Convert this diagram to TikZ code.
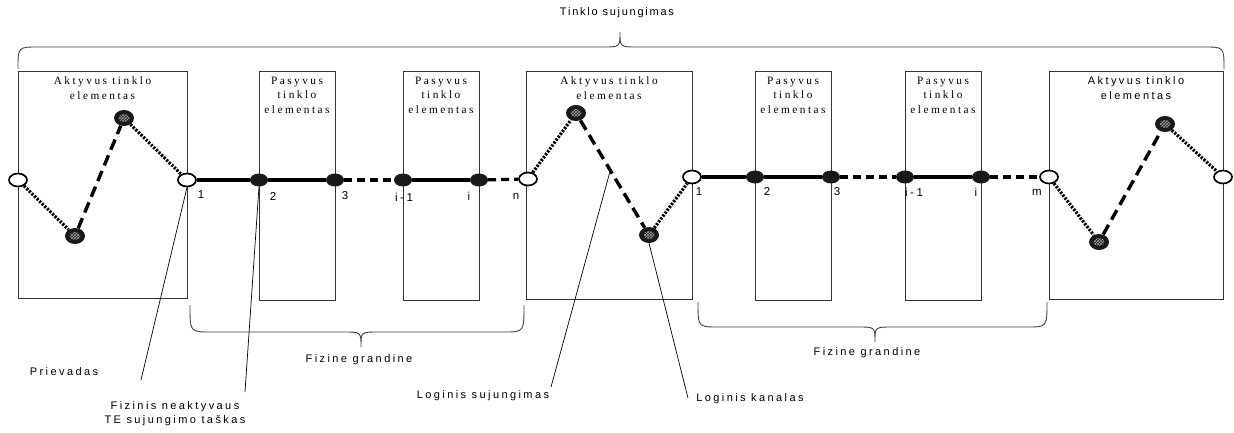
\documentclass[tikz,border=0pt]{standalone}
\usepackage{fontspec}
\setmainfont{Liberation Serif}
\setsansfont{Liberation Sans}
\newfontfamily\retasserif[LetterSpace=22]{Liberation Serif}
\newfontfamily\retassans[LetterSpace=22]{Liberation Sans}
\newfontfamily\tankussans[LetterSpace=16]{Liberation Sans}
\usetikzlibrary{shapes.geometric}
\usetikzlibrary{patterns}
\usetikzlibrary{calc}

% riestinis skliaustas: x kaire, x desine, y galai, y tiesi dalis, x smaigalys, y smaigalys
\newcommand{\skliaustas}[6]{%
  \draw[lenkta] (#1,#3) .. controls (#1,#4) .. (#1+20,#4) -- (#5-17,#4)
    .. controls (#5,#4) .. (#5,#6) .. controls (#5,#4) .. (#5+17,#4)
    -- (#2-20,#4) .. controls (#2,#4) .. (#2,#3);}

\tikzset{
  elementas/.style={draw=black!80, line width=0.8pt, inner sep=0pt},
  antraste/.style={font=\retasserif\fontsize{11.3}{14.5}\selectfont, align=center, anchor=north, inner sep=0pt},
  prievadas/.style={ellipse, draw, line width=1.7pt, fill=white, minimum width=18pt, minimum height=13pt, inner sep=0pt},
  taskas/.style={ellipse, fill=black!90, minimum width=18pt, minimum height=13pt, inner sep=0pt},
  loginis/.style={ellipse, fill=black!90, minimum width=20pt, minimum height=16pt, inner sep=0pt,
    path picture={\fill[pattern=crosshatch, pattern color=black!35] (path picture bounding box.center) ellipse (5.5pt and 4pt);}},
  fizinis/.style={line width=3.2pt},
  tarpas/.style={line width=3.2pt, dash pattern=on 8pt off 5pt},
  kanalas/.style={line width=3.2pt, dash pattern=on 2.2pt off 1.4pt},
  sujungimas/.style={line width=3.4pt, dash pattern=on 11pt off 6pt},
  nuoroda/.style={line width=0.7pt},
  lenkta/.style={line width=0.9pt, black!75},
  numeris/.style={font=\retassans\fontsize{11.5}{13}\selectfont, inner sep=0pt},
  uzrasas/.style={font=\retassans\fontsize{11}{14}\selectfont, align=center, inner sep=0pt}
}

\begin{document}
\begin{tikzpicture}[x=1pt, y=-1pt]
    \useasboundingbox (0,0) rectangle (1234,433);

    % Elementu staciakampiai
    \node[elementas, minimum width=169pt, minimum height=227pt] (ate1) at (102.5,184.5) {};
    \node[elementas, minimum width=76pt, minimum height=229pt] (pte1) at (297,185.5) {};
    \node[elementas, minimum width=76pt, minimum height=229pt] (pte2) at (441,185.5) {};
    \node[elementas, minimum width=166pt, minimum height=228pt] (ate2) at (609,185) {};
    \node[elementas, minimum width=76pt, minimum height=229pt] (pte3) at (793,185.5) {};
    \node[elementas, minimum width=76pt, minimum height=229pt] (pte4) at (943,185.5) {};
    \node[elementas, minimum width=174pt, minimum height=228pt] (ate3) at (1136,185) {};

    % Elementu pavadinimai
    \node[antraste] (vard1) at ([yshift=-6pt]ate1.north) {Aktyvus tinklo\\elementas};
    \node[antraste] (vard2) at ([yshift=-6pt]pte1.north) {Pasyvus\\tinklo\\elementas};
    \node[antraste] (vard3) at ([yshift=-6pt]pte2.north) {Pasyvus\\tinklo\\elementas};
    \node[antraste] (vard4) at ([yshift=-6pt]ate2.north) {Aktyvus tinklo\\elementas};
    \node[antraste] (vard5) at ([yshift=-6pt]pte3.north) {Pasyvus\\tinklo\\elementas};
    \node[antraste] (vard6) at ([yshift=-6pt]pte4.north) {Pasyvus\\tinklo\\elementas};
    \node[antraste, font=\retassans\fontsize{11}{14.5}\selectfont] (vard7) at ([yshift=-6pt]ate3.north) {Aktyvus tinklo\\elementas};

    % Prievadai ir taskai
    \node[prievadas] (p1) at (18,180) {};
    \node[loginis] (h1) at (75,236) {};
    \node[loginis] (h2) at (124,118) {};
    \node[prievadas] (p2) at (187,180) {};
    \node[taskas] (f1) at (259,180) {};
    \node[taskas] (f2) at (335,180) {};
    \node[taskas] (f3) at (403,180) {};
    \node[taskas] (f4) at (479,180) {};
    \node[prievadas] (p3) at (528,179) {};
    \node[loginis] (h3) at (576,113) {};
    \node[loginis] (h4) at (649,235) {};
    \node[prievadas] (p4) at (692,177) {};
    \node[taskas] (f5) at (755,177) {};
    \node[taskas] (f6) at (831,177) {};
    \node[taskas] (f7) at (905,177) {};
    \node[taskas] (f8) at (981,177) {};
    \node[prievadas] (p5) at (1049,177) {};
    \node[loginis] (h5) at (1099,242) {};
    \node[loginis] (h6) at (1165,124) {};
    \node[prievadas] (p6) at (1223,177) {};

    % Loginiai kanalai ir sujungimai
    \draw[kanalas] (p1) -- (h1);
    \draw[sujungimas] (h1) -- (h2);
    \draw[kanalas] (h2) -- (p2);
    \draw[kanalas] (p3) -- (h3);
    \draw[sujungimas] (h3) -- (h4);
    \draw[kanalas] (h4) -- (p4);
    \draw[kanalas] (p5) -- (h5);
    \draw[sujungimas] (h5) -- (h6);
    \draw[kanalas] (h6) -- (p6);

    % Fizines grandines
    \draw[fizinis] (p2) -- (f1);
    \draw[fizinis] (f1) -- (f2);
    \draw[tarpas] (f2) -- (f3);
    \draw[fizinis] (f3) -- (f4);
    \draw[tarpas] (f4) -- (p3);
    \draw[fizinis] (p4) -- (f5);
    \draw[fizinis] (f5) -- (f6);
    \draw[tarpas] (f6) -- (f7);
    \draw[fizinis] (f7) -- (f8);
    \draw[tarpas] (f8) -- (p5);

    % Numeriai
    \node[numeris] (n1) at (201,195) {1};
    \node[numeris] (n2) at (273,196) {2};
    \node[numeris] (n3) at (345,196) {3};
    \node[numeris] (n4) at (404,197) {i-1};
    \node[numeris] (n5) at (469,196) {i};
    \node[numeris] (n6) at (516,196) {n};
    \node[numeris] (m1) at (699,192) {1};
    \node[numeris] (m2) at (767,191) {2};
    \node[numeris] (m3) at (837,192) {3};
    \node[numeris] (m4) at (914,192) {i-1};
    \node[numeris] (m5) at (976,192) {i};
    \node[numeris] (m6) at (1037,192) {m};

    % Skliaustai
    \skliaustas{18}{1224}{69}{47}{620}{32}
    \skliaustas{190}{524}{305}{332}{361}{347}
    \skliaustas{698}{1047}{302}{327}{875}{342}

    % Uzrasai
    \node[uzrasas, font=\tankussans\fontsize{11}{14}\selectfont] (tinklas) at (617,13) {Tinklo sujungimas};
    \node[uzrasas] (grand1) at (359,360) {Fizine grandine};
    \node[uzrasas] (grand2) at (867,353) {Fizine grandine};
    \node[uzrasas] (priev) at (64,372) {Prievadas};
    \node[uzrasas] (fiz) at (175,414) {Fizinis neaktyvaus\\TE sujungimo taškas};
    \node[uzrasas] (logsuj) at (483,396) {Loginis sujungimas};
    \node[uzrasas] (logkan) at (750,399) {Loginis kanalas};

    % Nuorodu linijos
    \coordinate (prievgalas) at (141,380);
    \coordinate (fizgalas) at (245,392);
    \coordinate (sujgalas) at (551,387);
    \coordinate (kangalas) at (688,398);
    \draw[nuoroda] (p2.south) -- (prievgalas);
    \draw[nuoroda] (f1.south) -- (fizgalas);
    \draw[nuoroda] ($(h3)!0.47!(h4)$) -- (sujgalas);
    \draw[nuoroda] (h4.south) -- (kangalas);
\end{tikzpicture}
\end{document}
